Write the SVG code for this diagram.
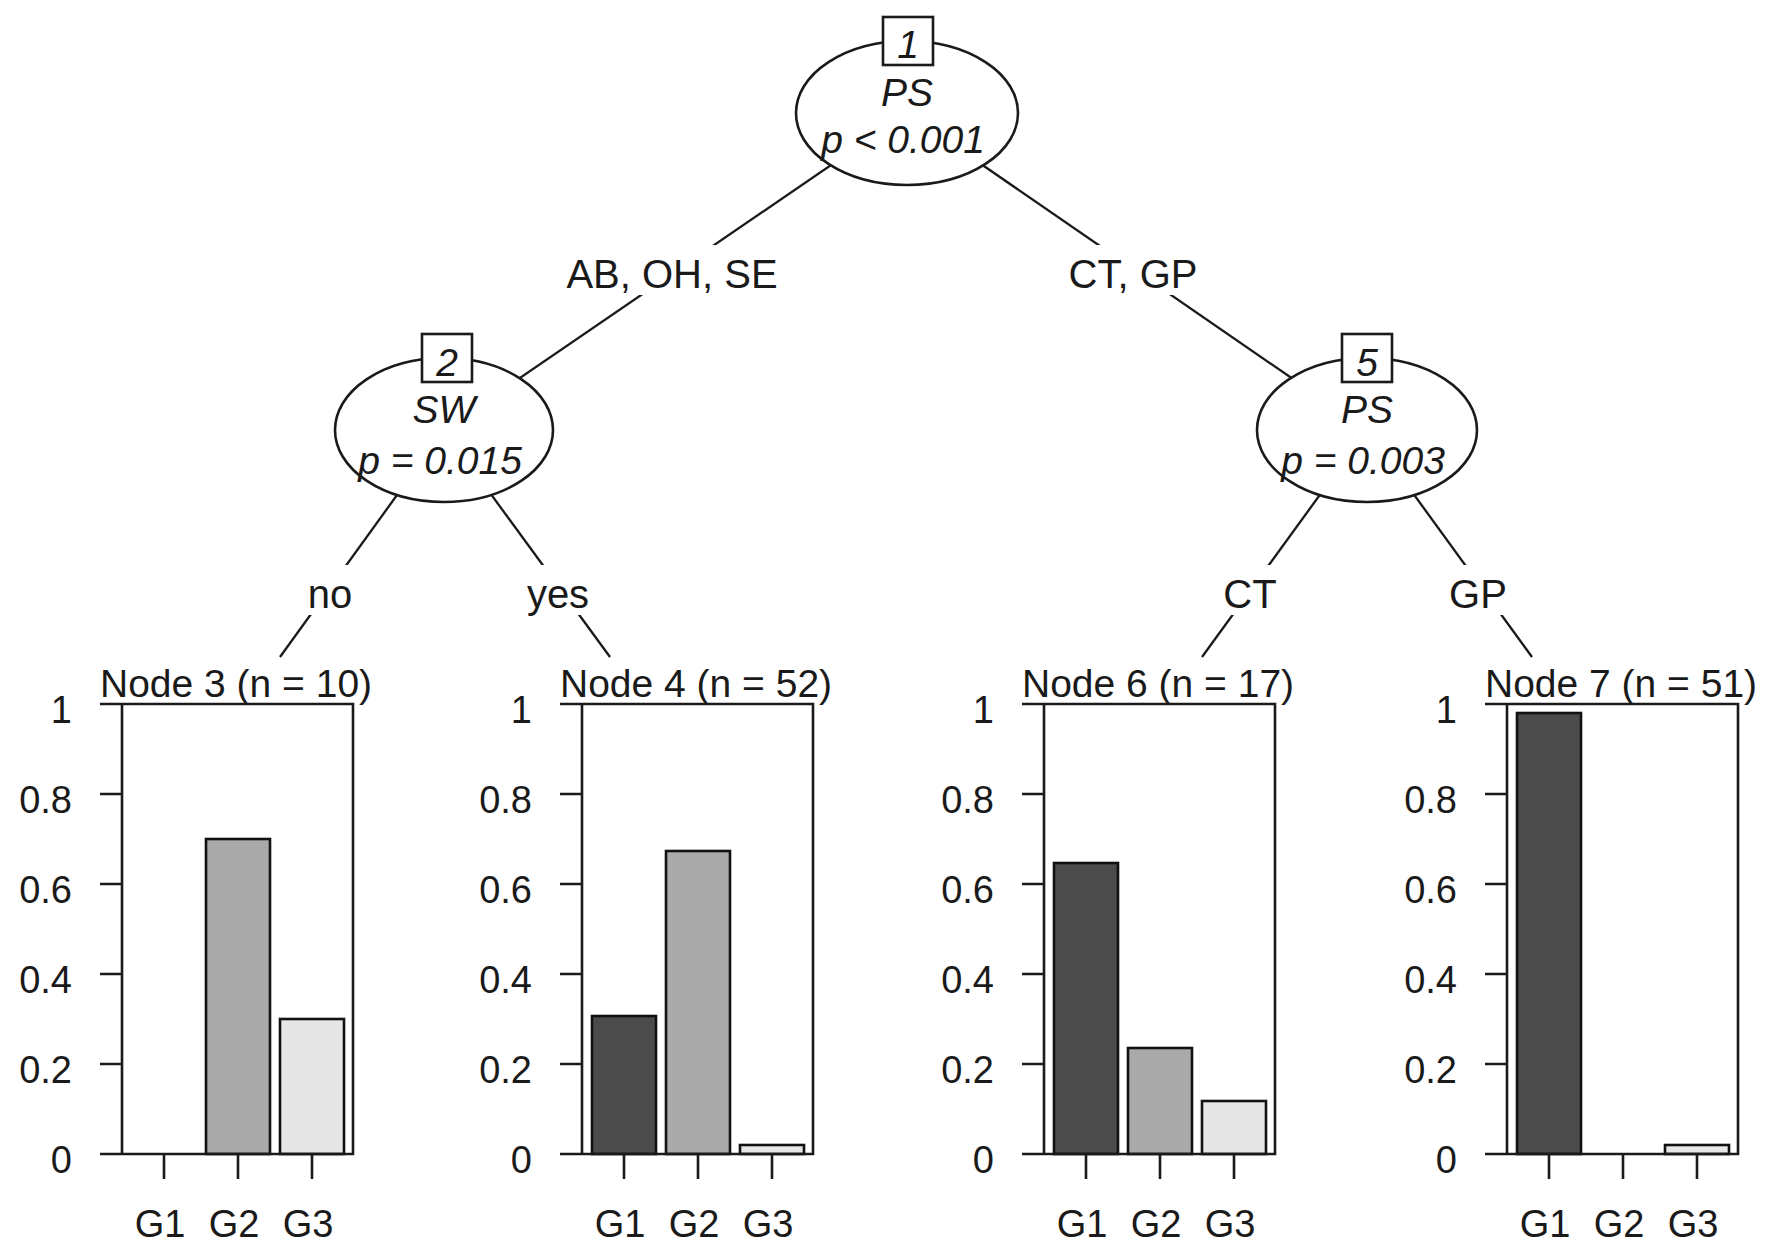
<svg xmlns="http://www.w3.org/2000/svg" width="1772" height="1256" viewBox="0 0 1772 1256">
<style>
  text { font-family: "Liberation Sans", Arial, sans-serif; fill: #1a1a1a; }
  .lbl { font-size: 40px; text-anchor: middle; }
  .it { font-size: 39px; font-style: italic; text-anchor: middle; }
  .hdr { font-size: 39px; }
  .tk { font-size: 38px; text-anchor: end; }
  .xl { font-size: 38px; text-anchor: middle; }
  .edge { stroke: #1a1a1a; stroke-width: 2.3; fill: none; }
  .ell { fill: #ffffff; stroke: #1a1a1a; stroke-width: 2.6; }
  .idbox { fill: #ffffff; stroke: #1a1a1a; stroke-width: 2.6; }
  .bg { fill: #ffffff; stroke: none; }
  .ax { stroke: #1a1a1a; stroke-width: 2.6; fill: none; }
  .g1 { fill: #4b4b4b; stroke: #111; stroke-width: 2.6; }
  .g2 { fill: #aaaaaa; stroke: #111; stroke-width: 2.6; }
  .g3 { fill: #e6e6e6; stroke: #111; stroke-width: 2.6; }
</style>
<rect x="0" y="0" width="1772" height="1256" fill="#ffffff"/>

<g id="connectors">
  <line class="edge" x1="907" y1="113" x2="444" y2="430"/>
  <line class="edge" x1="907" y1="113" x2="1367" y2="430"/>
  <line class="edge" x1="444" y1="430" x2="280" y2="657"/>
  <line class="edge" x1="444" y1="430" x2="610" y2="657"/>
  <line class="edge" x1="1367" y1="430" x2="1202" y2="657"/>
  <line class="edge" x1="1367" y1="430" x2="1532" y2="657"/>
  <rect class="bg" x="558" y="245" width="230" height="50"/>
  <text class="lbl" x="672" y="288">AB, OH, SE</text>
  <rect class="bg" x="1060" y="245" width="146" height="50"/>
  <text class="lbl" x="1133" y="288">CT, GP</text>
  <rect class="bg" x="305" y="565" width="50" height="50"/>
  <text class="lbl" x="330" y="608">no</text>
  <rect class="bg" x="522" y="565" width="72" height="50"/>
  <text class="lbl" x="558" y="608">yes</text>
  <rect class="bg" x="1220" y="565" width="60" height="50"/>
  <text class="lbl" x="1250" y="608">CT</text>
  <rect class="bg" x="1446" y="565" width="64" height="50"/>
  <text class="lbl" x="1478" y="608">GP</text>
</g>

<g id="node1">
  <ellipse class="ell" cx="907" cy="113" rx="111" ry="72"/>
  <rect class="idbox" x="883" y="17" width="50" height="48"/>
  <text class="it" x="908" y="58">1</text>
  <text class="it" x="907" y="106">PS</text>
  <text class="it" x="903" y="153">p &lt; 0.001</text>
</g>

<g id="node2">
  <ellipse class="ell" cx="444" cy="430" rx="109" ry="72"/>
  <rect class="idbox" x="422" y="334" width="50" height="48"/>
  <text class="it" x="447" y="376">2</text>
  <text class="it" x="444" y="423">SW</text>
  <text class="it" x="440" y="474">p = 0.015</text>
</g>

<g id="node5">
  <ellipse class="ell" cx="1367" cy="430" rx="110" ry="72"/>
  <rect class="idbox" x="1342" y="334" width="50" height="48"/>
  <text class="it" x="1367" y="376">5</text>
  <text class="it" x="1367" y="423">PS</text>
  <text class="it" x="1363" y="474">p = 0.003</text>
</g>

<g id="node3" transform="translate(122,0)">
  <text class="hdr" x="-22" y="697">Node 3 (n = 10)</text>
  <rect class="g2" x="84" y="839" width="64" height="315"/>
  <rect class="g3" x="158" y="1019" width="64" height="135"/>
  <path class="ax" d="M-22 704H231V1154H-22M0 704V1154M-22 794H0M-22 884H0M-22 974H0M-22 1064H0M42 1154V1179M116 1154V1179M190 1154V1179"/>
  <text class="tk" x="-50" y="723">1</text>
  <text class="tk" x="-50" y="813">0.8</text>
  <text class="tk" x="-50" y="903">0.6</text>
  <text class="tk" x="-50" y="993">0.4</text>
  <text class="tk" x="-50" y="1083">0.2</text>
  <text class="tk" x="-50" y="1173">0</text>
  <text class="xl" x="38" y="1237">G1</text>
  <text class="xl" x="112" y="1237">G2</text>
  <text class="xl" x="186" y="1237">G3</text>
</g>

<g id="node4" transform="translate(582,0)">
  <text class="hdr" x="-22" y="697">Node 4 (n = 52)</text>
  <rect class="g1" x="10" y="1016" width="64" height="138"/>
  <rect class="g2" x="84" y="851" width="64" height="303"/>
  <rect class="g3" x="158" y="1145" width="64" height="9"/>
  <path class="ax" d="M-22 704H231V1154H-22M0 704V1154M-22 794H0M-22 884H0M-22 974H0M-22 1064H0M42 1154V1179M116 1154V1179M190 1154V1179"/>
  <text class="tk" x="-50" y="723">1</text>
  <text class="tk" x="-50" y="813">0.8</text>
  <text class="tk" x="-50" y="903">0.6</text>
  <text class="tk" x="-50" y="993">0.4</text>
  <text class="tk" x="-50" y="1083">0.2</text>
  <text class="tk" x="-50" y="1173">0</text>
  <text class="xl" x="38" y="1237">G1</text>
  <text class="xl" x="112" y="1237">G2</text>
  <text class="xl" x="186" y="1237">G3</text>
</g>

<g id="node6" transform="translate(1044,0)">
  <text class="hdr" x="-22" y="697">Node 6 (n = 17)</text>
  <rect class="g1" x="10" y="863" width="64" height="291"/>
  <rect class="g2" x="84" y="1048" width="64" height="106"/>
  <rect class="g3" x="158" y="1101" width="64" height="53"/>
  <path class="ax" d="M-22 704H231V1154H-22M0 704V1154M-22 794H0M-22 884H0M-22 974H0M-22 1064H0M42 1154V1179M116 1154V1179M190 1154V1179"/>
  <text class="tk" x="-50" y="723">1</text>
  <text class="tk" x="-50" y="813">0.8</text>
  <text class="tk" x="-50" y="903">0.6</text>
  <text class="tk" x="-50" y="993">0.4</text>
  <text class="tk" x="-50" y="1083">0.2</text>
  <text class="tk" x="-50" y="1173">0</text>
  <text class="xl" x="38" y="1237">G1</text>
  <text class="xl" x="112" y="1237">G2</text>
  <text class="xl" x="186" y="1237">G3</text>
</g>

<g id="node7" transform="translate(1507,0)">
  <text class="hdr" x="-22" y="697">Node 7 (n = 51)</text>
  <rect class="g1" x="10" y="713" width="64" height="441"/>
  <rect class="g3" x="158" y="1145" width="64" height="9"/>
  <path class="ax" d="M-22 704H231V1154H-22M0 704V1154M-22 794H0M-22 884H0M-22 974H0M-22 1064H0M42 1154V1179M116 1154V1179M190 1154V1179"/>
  <text class="tk" x="-50" y="723">1</text>
  <text class="tk" x="-50" y="813">0.8</text>
  <text class="tk" x="-50" y="903">0.6</text>
  <text class="tk" x="-50" y="993">0.4</text>
  <text class="tk" x="-50" y="1083">0.2</text>
  <text class="tk" x="-50" y="1173">0</text>
  <text class="xl" x="38" y="1237">G1</text>
  <text class="xl" x="112" y="1237">G2</text>
  <text class="xl" x="186" y="1237">G3</text>
</g>
</svg>
